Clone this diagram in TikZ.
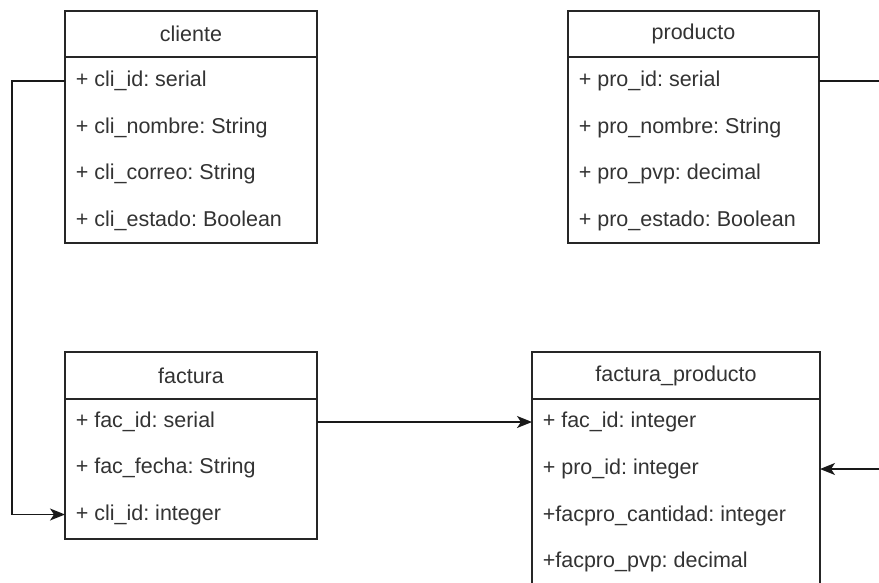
\documentclass[tikz,border=0pt]{standalone}
\usepackage{fontspec}
\setmainfont{Liberation Sans}
\usetikzlibrary{arrows.meta}
\frenchspacing
\begin{document}
\begin{tikzpicture}[x=1pt,y=-1pt,
  line width=1.6pt,
  box/.style={draw=black!85, fill=white, minimum width=#1, inner sep=0pt, outer sep=0pt},
  hdr/.style={font=\fontsize{21.5}{25}\selectfont, text=black!80},
  attr/.style={anchor=west, inner sep=0pt, font=\fontsize{21.5}{25}\selectfont, text=black!80},
  link/.style={draw=black!90, line width=1.6pt},
  tip/.style={-{Stealth[length=15pt,width=12pt,inset=4pt]}}
]
\useasboundingbox (0,0) rectangle (879,582);
\clip (0,0) rectangle (879,582);

% ---- cliente ----
\node[box=252pt, minimum height=46pt] (cliH) at (191,34) {};
\node[hdr] at (cliH.center) {cliente};
\node[box=252pt, minimum height=186pt] (cliB) at (191,150) {};
\node[attr] (cliR1) at (75,81)    {+ cli\_id: serial};
\node[attr] (cliR2) at (75,127.5) {+ cli\_nombre: String};
\node[attr] (cliR3) at (75,174)   {+ cli\_correo: String};
\node[attr] (cliR4) at (75,220.5) {+ cli\_estado: Boolean};

% ---- producto ----
\node[box=251pt, minimum height=46pt] (proH) at (693.5,34) {};
\node[hdr] at (proH.center) {producto};
\node[box=251pt, minimum height=186pt] (proB) at (693.5,150) {};
\node[attr] (proR1) at (578,81)    {+ pro\_id: serial};
\node[attr] (proR2) at (578,127.5) {+ pro\_nombre: String};
\node[attr] (proR3) at (578,174)   {+ pro\_pvp: decimal};
\node[attr] (proR4) at (578,220.5) {+ pro\_estado: Boolean};

% ---- factura ----
\node[box=252pt, minimum height=47pt] (facH) at (191,375.5) {};
\node[hdr] at (facH.center) {factura};
\node[box=252pt, minimum height=140pt] (facB) at (191,469) {};
\node[attr] (facR1) at (75,422) {+ fac\_id: serial};
\node[attr] (facR2) at (75,468) {+ fac\_fecha: String};
\node[attr] (facR3) at (75,514.5) {+ cli\_id: integer};

% ---- factura_producto ----
\node[box=288pt, minimum height=47pt] (fpH) at (676,375.5) {};
\node[hdr] at (fpH.center) {factura\_producto};
\node[box=288pt, minimum height=188pt] (fpB) at (676,493) {};
\node[attr] (fpR1) at (542,422) {+ fac\_id: integer};
\node[attr] (fpR2) at (542,469) {+ pro\_id: integer};
\node[attr] (fpR3) at (542,516) {+facpro\_cantidad: integer};
\node[attr] (fpR4) at (542,562) {+facpro\_pvp: decimal};

% ---- connectors ----
\coordinate (leftbend) at (12,81);
\draw[link,tip] (cliB.west |- cliR1) -- (leftbend) |- (facB.west |- facR3);
\draw[link,tip] (facB.east |- facR1) -- (fpB.west |- fpR1);
\coordinate (rightbend) at (895,81);
\draw[link,tip] (proB.east |- proR1) -- (rightbend) |- (fpB.east |- fpR2);
\end{tikzpicture}
\end{document}
